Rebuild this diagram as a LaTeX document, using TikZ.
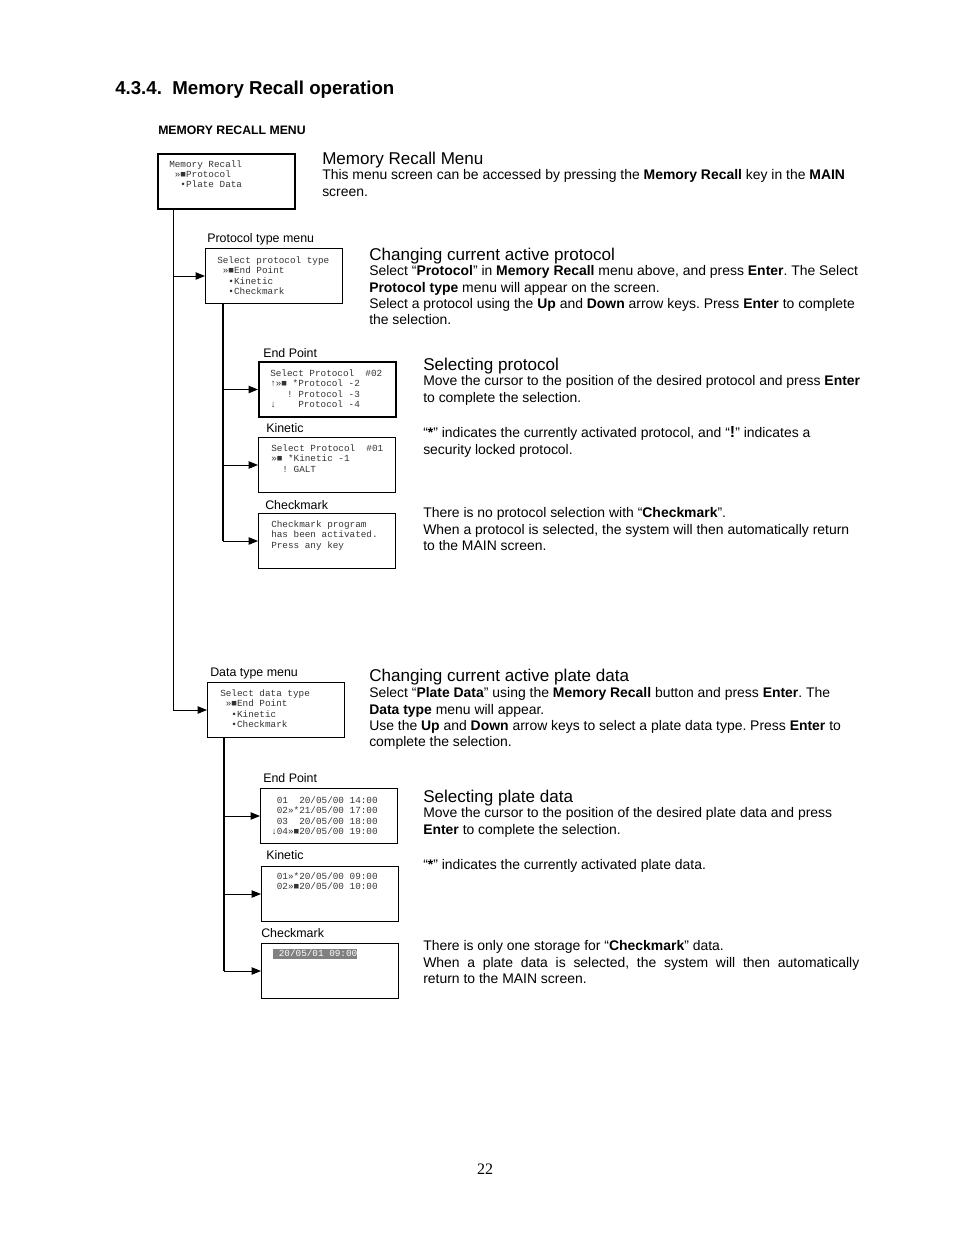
\documentclass[tikz,border=0pt]{standalone}
\usepackage{fontspec}
\setmainfont{Liberation Sans}
\newfontfamily\scrfont{Liberation Mono}
\newfontfamily\pagefont{Liberation Serif}
\usetikzlibrary{arrows.meta,calc}
\newcommand\scrsp{\hphantom{0}}
\frenchspacing

\begin{document}
\begin{tikzpicture}[
  x=0.75pt, y=-0.75pt,
  screen/.style={draw=black, line width=0.75pt, anchor=north west, inner sep=0pt,
                 minimum width=102.75pt, minimum height=41.25pt},
  screenbold/.style={screen, line width=1.5pt},
  scrtxt/.style={anchor=north west, inner sep=0pt, align=left, text=black!80,
                 font=\scrfont\fontsize{7}{7.7}\selectfont},
  scrhl/.style={anchor=north west, inner sep=0pt, fill=black!50, text=white,
                text height=5.6pt, text depth=1.9pt,
                font=\scrfont\fontsize{7}{7.7}\selectfont},
  title/.style={anchor=base west, inner sep=0pt, font=\bfseries\fontsize{14}{17}\selectfont},
  subtitle/.style={anchor=base west, inner sep=0pt, font=\bfseries\fontsize{9.2}{11}\selectfont},
  head/.style={anchor=base west, inner sep=0pt, font=\fontsize{12.8}{15}\selectfont},
  body/.style={anchor=north west, inner sep=0pt, align=left, font=\fontsize{10.45}{12.2}\selectfont},
  boxlbl/.style={anchor=base west, inner sep=0pt, font=\fontsize{9.3}{11}\selectfont},
  trunk/.style={draw=black, line width=0.75pt},
  bus/.style={draw=black, line width=1.5pt},
  sig/.style={draw=black, line width=0.75pt, -{Triangle[length=7pt,width=5.5pt]}},
]
\useasboundingbox (0,0) rectangle (954,1235);

% ---------- headings ----------
\node[title] (ttl) at (115,94) {4.3.4.\ \ Memory Recall operation};
\node[subtitle] (sub) at (158,134) {MEMORY RECALL MENU};

% ---------- memory recall menu ----------
\node[screenbold] (menu) at (157,153) {};
\node[scrtxt] (menutxt) at (169,160)
  {Memory Recall\\ \scrsp»■Protocol\\ \scrsp\scrsp•Plate Data};

% ---------- protocol branch ----------
\node[boxlbl] (ptypelbl) at (207,242.5) {Protocol type menu};
\node[screen] (ptype) at (205,248) {};
\node[scrtxt] (ptypetxt) at (217,256.5)
  {Select protocol type\\ \scrsp»■End Point\\ \scrsp\scrsp•Kinetic\\ \scrsp\scrsp•Checkmark};

\node[boxlbl] (epPlbl) at (263,357.5) {End Point};
\node[screenbold] (epP) at (258,361) {};
\node[scrtxt] (epPtxt) at (270,369.5)
  {Select Protocol~~\#02\\ ↑»■ *Protocol -2\\ \scrsp\scrsp\scrsp! Protocol -3\\ ↓~~~~Protocol -4};

\node[boxlbl] (kinPlbl) at (266,432.5) {Kinetic};
\node[screen] (kinP) at (258,437) {};
\node[scrtxt] (kinPtxt) at (271,444.5)
  {Select Protocol~~\#01\\ »■ *Kinetic -1\\ \scrsp\scrsp! GALT};

\node[boxlbl] (chkPlbl) at (265,509.5) {Checkmark};
\node[screen] (chkP) at (258,513) {};
\node[scrtxt] (chkPtxt) at (271,520.5)
  {Checkmark program\\ has been activated.\\ Press any key};

% ---------- plate data branch ----------
\node[boxlbl] (dtypelbl) at (210,676.5) {Data type menu};
\node[screen] (dtype) at (207,682) {};
\node[scrtxt] (dtypetxt) at (220,689.5)
  {Select data type\\ \scrsp»■End Point\\ \scrsp\scrsp•Kinetic\\ \scrsp\scrsp•Checkmark};

\node[boxlbl] (epDlbl) at (263,782.5) {End Point};
\node[screen] (epD) at (260,788) {};
\node[scrtxt] (epDtxt) at (271,796.5)
  {\scrsp01~~20/05/00 14:00\\ \scrsp02»*21/05/00 17:00\\ \scrsp03~~20/05/00 18:00\\ ↓04»■20/05/00 19:00};

\node[boxlbl] (kinDlbl) at (266,859.5) {Kinetic};
\node[screen] (kinD) at (261,866) {};
\node[scrtxt] (kinDtxt) at (271,872.5)
  {\scrsp01»*20/05/00 09:00\\ \scrsp02»■20/05/00 10:00};

\node[boxlbl] (chkDlbl) at (261,937.5) {Checkmark};
\node[screen] (chkD) at (261,943) {};
\node[scrhl] (chkDtxt) at (273,949) {\scrsp20/05/01 09:00};

% ---------- connectors ----------
\coordinate (mtrunk) at ($(menu.south west)+(16,0)$);
\draw[trunk] (mtrunk) -- (mtrunk |- dtype.west);
\draw[sig] (mtrunk |- ptype.west) -- (ptype.west);
\draw[sig] (mtrunk |- dtype.west) -- (dtype.west);

\coordinate (pbus) at ($(ptype.south west)+(18,0)$);
\draw[bus] (pbus) -- (pbus |- chkP.west);
\foreach \b in {epP,kinP,chkP}
  \draw[sig] (pbus |- \b.west) -- (\b.west);

\coordinate (dbus) at ($(dtype.south west)+(17,0)$);
\draw[bus] (dbus) -- (dbus |- chkD.west);
\foreach \b in {epD,kinD,chkD}
  \draw[sig] (dbus |- \b.west) -- (\b.west);

% ---------- descriptions ----------
\node[head] (hMenu) at (322,164) {Memory Recall Menu};
\node[body] (tMenu) at (322,169.5)
  {This menu screen can be accessed by pressing the \textbf{Memory Recall} key in the \textbf{MAIN}\\
   screen.};

\node[head] (hProt) at (369,260) {Changing current active protocol};
\node[body] (tProt) at (369,265.5)
  {Select “\textbf{Protocol}” in \textbf{Memory Recall} menu above, and press \textbf{Enter}. The Select\\
   \textbf{Protocol type} menu will appear on the screen.\\
   Select a protocol using the \textbf{Up} and \textbf{Down} arrow keys. Press \textbf{Enter} to complete\\
   the selection.};

\node[head] (hSelP) at (423,370) {Selecting protocol};
\node[body] (tSelP) at (423,375.5)
  {Move the cursor to the position of the desired protocol and press \textbf{Enter}\\
   to complete the selection.};
\node[body] (tMarkP) at (423,426.5)
  {“\textbf{*}” indicates the currently activated protocol, and “{\large\textbf{!}}” indicates a\\
   security locked protocol.};
\node[body] (tChkP) at (423,507.5)
  {There is no protocol selection with “\textbf{Checkmark}”.\\
   When a protocol is selected, the system will then automatically return\\
   to the MAIN screen.};

\node[head] (hData) at (369,681) {Changing current active plate data};
\node[body] (tData) at (369,687.5)
  {Select “\textbf{Plate Data}” using the \textbf{Memory Recall} button and press \textbf{Enter}. The\\
   \textbf{Data type} menu will appear.\\
   Use the \textbf{Up} and \textbf{Down} arrow keys to select a plate data type. Press \textbf{Enter} to\\
   complete the selection.};

\node[head] (hSelD) at (423,802) {Selecting plate data};
\node[body] (tSelD) at (423,807.5)
  {Move the cursor to the position of the desired plate data and press\\
   \textbf{Enter} to complete the selection.};
\node[body] (tMarkD) at (423,859.5)
  {“\textbf{*}” indicates the currently activated plate data.};
\node[body] (tChkD) at (423,940.5)
  {There is only one storage for “\textbf{Checkmark}” data.\\
   \hbox to 327pt{When a plate data is selected, the system will then automatically}\\
   return to the MAIN screen.};

% ---------- page number ----------
\node[anchor=base, inner sep=0pt, font=\pagefont\fontsize{12}{14}\selectfont] (pgno) at (485,1174) {22};

\end{tikzpicture}
\end{document}
